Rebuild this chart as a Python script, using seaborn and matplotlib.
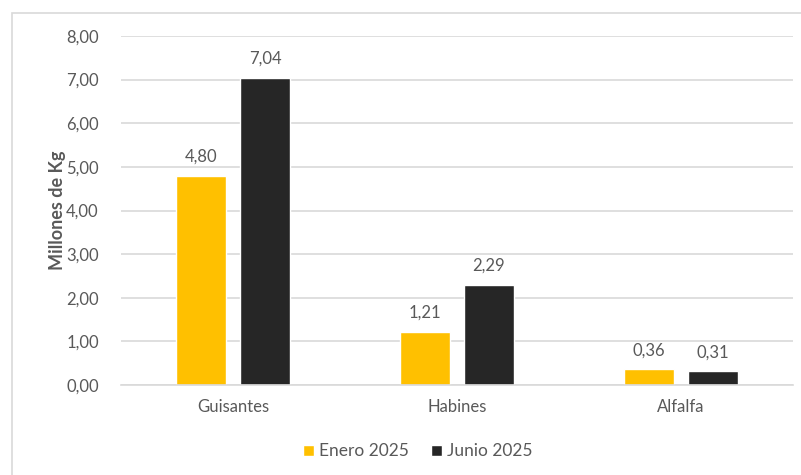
import matplotlib
matplotlib.use("Agg")
import matplotlib.pyplot as plt
import pandas as pd
import seaborn as sns
from matplotlib.patches import Rectangle

categorias = ["Guisantes", "Habines", "Alfalfa"]
enero_2025 = [4.80, 1.21, 0.36]
junio_2025 = [7.04, 2.29, 0.31]
series = ["Enero 2025", "Junio 2025"]
colores = ["#FFC000", "#262626"]

df = pd.DataFrame({
    "cultivo": categorias * 2,
    "periodo": [series[0]] * 3 + [series[1]] * 3,
    "valor": enero_2025 + junio_2025,
})

sns.set_style("white")
plt.rcParams["font.family"] = ["Lato", "DejaVu Sans"]
gris = "#595959"

fig = plt.figure(figsize=(8.01, 4.75), dpi=100)
ax = fig.add_axes([121 / 801, 1 - 385 / 475, 672 / 801, 349 / 475])

# outer chart border (clipped at right/bottom like the original)
fig.patches.append(Rectangle((12 / 801, -0.1), 1.0, 1 - 13 / 475 + 0.1,
                             transform=fig.transFigure, fill=False,
                             edgecolor="#D9D9D9", linewidth=1.2, zorder=0))

sns.barplot(data=df, x="cultivo", y="valor", hue="periodo", order=categorias,
            hue_order=series, palette=colores, width=0.571, gap=0.22,
            saturation=1, ax=ax, legend=True)

for cont in ax.containers:
    ax.bar_label(cont, labels=[f"{v:.2f}".replace(".", ",") for v in cont.datavalues],
                 padding=8, fontsize=12, color=gris)

ax.set_ylim(0, 8)
ax.set_xlim(-0.5, 2.5)
ax.set_yticks(range(0, 9))
ax.set_yticklabels([f"{v:.2f}".replace(".", ",") for v in range(0, 9)])
ax.yaxis.grid(True, color="#D9D9D9", linewidth=1.2)
ax.set_axisbelow(True)
for s in ["top", "right", "left"]:
    ax.spines[s].set_visible(False)
ax.spines["bottom"].set_color("#D9D9D9")
ax.spines["bottom"].set_linewidth(1.2)
ax.tick_params(axis="both", length=0, labelsize=12, labelcolor=gris)
ax.tick_params(axis="y", pad=16)
ax.tick_params(axis="x", pad=10)
ax.set_xlabel("")
ax.set_ylabel("Millones de Kg", fontsize=13, fontweight="bold", color=gris, labelpad=0)

leg = ax.legend(loc="center", bbox_to_anchor=(0.442, -0.19), ncol=2, frameon=False,
                fontsize=12.5, handlelength=0.6, handleheight=0.6, handletextpad=0.3,
                columnspacing=1.3)
for t in leg.get_texts():
    t.set_color(gris)

fig.savefig("out.png", dpi=100, facecolor="white")
